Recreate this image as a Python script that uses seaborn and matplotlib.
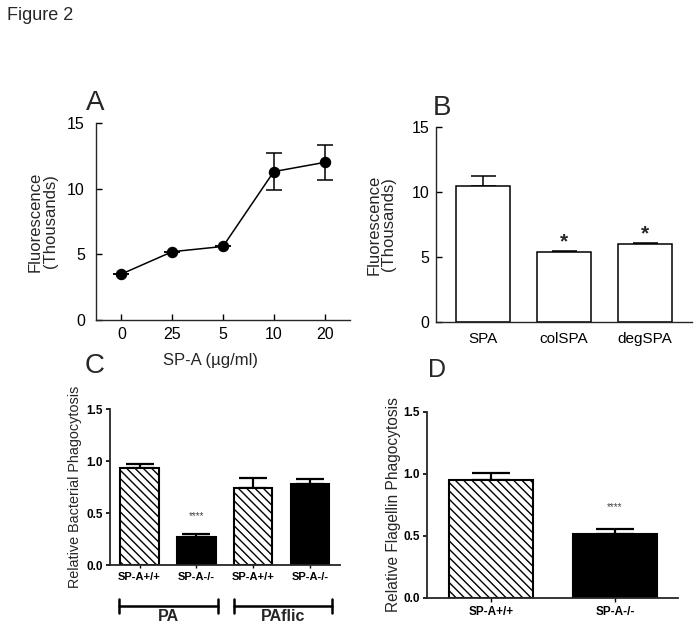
import matplotlib
matplotlib.use("Agg")
import matplotlib.pyplot as plt
import seaborn as sns
import pandas as pd
import numpy as np

# ---------------- data ----------------
conc_labels = ["0", "25", "5", "10", "20"]
conc_fluor = [3.5, 5.2, 5.6, 11.3, 12.0]
conc_err = [0.0, 0.0, 0.0, 1.4, 1.35]

spa_labels = ["SPA", "colSPA", "degSPA"]
spa_fluor = [10.5, 5.4, 6.0]
spa_err = [0.7, 0.05, 0.05]
spa_sig = ["", "*", "*"]

bact_labels = ["SP-A+/+", "SP-A-/-", "SP-A+/+", "SP-A-/-"]
bact_groups = ["PA", "PA", "PAflic", "PAflic"]
bact_vals = [0.93, 0.27, 0.74, 0.78]
bact_err = [0.04, 0.03, 0.10, 0.05]
bact_sig = ["", "****", "", ""]

flag_labels = ["SP-A+/+", "SP-A-/-"]
flag_vals = [0.95, 0.52]
flag_err = [0.06, 0.04]
flag_sig = ["", "****"]

# ---------------- style ----------------
sns.set_theme(style="ticks")
plt.rcParams["font.family"] = ["Liberation Sans", "DejaVu Sans"]
plt.rcParams["hatch.linewidth"] = 1.0
plt.rcParams["axes.linewidth"] = 1.0

W, H = 700, 631
fig = plt.figure(figsize=(W / 100, H / 100), dpi=100)


def rect(l, t, r, b):
    return [l / W, 1 - b / H, (r - l) / W, (b - t) / H]


fig.text(7 / W, 1 - 7 / H, "Figure 2", fontsize=13, ha="left", va="top")

# ---------------- Panel A ----------------
axA = fig.add_axes(rect(96, 123, 350, 320))
dfA = pd.DataFrame({"conc": conc_labels, "fluor": conc_fluor})
axA.errorbar(np.arange(len(conc_labels)), conc_fluor, yerr=conc_err, fmt="none",
             ecolor="black", elinewidth=1.1, capsize=5.5, capthick=1.1, zorder=1)
sns.pointplot(data=dfA, x="conc", y="fluor", order=conc_labels, color="black",
              errorbar=None, markers="o", markersize=7.4, linewidth=1.1, ax=axA)
axA.set_ylim(0, 15)
axA.set_yticks([0, 5, 10, 15])
axA.set_xlim(-0.5, 4.5)
sns.despine(ax=axA)
axA.tick_params(axis="both", direction="in", length=4, width=1.0, labelsize=11.5, colors="black")
axA.tick_params(axis="y", pad=8)
axA.tick_params(axis="x", pad=5)
axA.set_xlabel("SP-A (µg/ml)", fontsize=12)
axA.xaxis.set_label_coords(0.45, -0.165)
axA.set_ylabel("Fluorescence\n(Thousands)", fontsize=12, linespacing=1.0)
axA.yaxis.set_label_coords(-0.15, 0.5)
fig.text(86 / W, 1 - 110 / H, "A", fontsize=20, ha="left", va="baseline")

# ---------------- Panel B ----------------
axB = fig.add_axes(rect(436, 127, 692, 322))
dfB = pd.DataFrame({"sample": spa_labels, "fluor": spa_fluor})
axB.errorbar(np.arange(len(spa_labels)), spa_fluor, yerr=[[0] * 3, spa_err], fmt="none",
             ecolor="black", elinewidth=1.1, capsize=9, capthick=1.1, zorder=1)
sns.barplot(data=dfB, x="sample", y="fluor", order=spa_labels, color="white",
            edgecolor="black", linewidth=1.1, width=0.667, errorbar=None, ax=axB, zorder=2)
for p in axB.patches:
    p.set_facecolor("white")
for i, s in enumerate(spa_sig):
    if s:
        axB.text(i, spa_fluor[i] + spa_err[i] + 0.75, s, ha="center", va="center",
                 fontsize=15, fontweight="bold")
axB.set_ylim(0, 15)
axB.set_yticks([0, 5, 10, 15])
axB.set_xlim(-0.58, 2.58)
sns.despine(ax=axB)
axB.tick_params(axis="y", direction="in", length=4, width=1.0, labelsize=11.5, pad=5, colors="black")
axB.tick_params(axis="x", length=0, labelsize=11, pad=7, colors="black")
axB.set_xlabel("")
axB.set_ylabel("Fluorescence\n(Thousands)", fontsize=12, linespacing=1.0)
axB.yaxis.set_label_coords(-0.155, 0.5)
fig.text(433 / W, 1 - 115 / H, "B", fontsize=20, ha="left", va="baseline")

# ---------------- Panel C ----------------
axC = fig.add_axes(rect(110, 409, 340, 565))
bact_keys = [f"{g} {l}" for g, l in zip(bact_groups, bact_labels)]
dfC = pd.DataFrame({"key": bact_keys, "val": bact_vals})
axC.errorbar(np.arange(len(bact_keys)), bact_vals, yerr=[[0] * 4, bact_err], fmt="none",
             ecolor="black", elinewidth=1.6, capsize=10, capthick=1.6, zorder=1)
sns.barplot(data=dfC, x="key", y="val", order=bact_keys, color="white",
            edgecolor="black", linewidth=1.5, width=0.68, errorbar=None, ax=axC, zorder=2)
for lab, p in zip(bact_labels, axC.patches):
    if "+/+" in lab:
        p.set_facecolor("white")
        p.set_hatch("\\\\\\\\")
    else:
        p.set_facecolor("black")
for i, s in enumerate(bact_sig):
    if s:
        axC.text(i, 0.47, s, ha="center", va="center", fontsize=7, color="#444444")
axC.set_ylim(0, 1.5)
axC.set_yticks([0, 0.5, 1.0, 1.5])
axC.set_yticklabels(["0.0", "0.5", "1.0", "1.5"])
axC.set_xlim(-0.52, 3.53)
axC.set_xticks(range(4))
axC.set_xticklabels(bact_labels)
sns.despine(ax=axC)
for sp in ["left", "bottom"]:
    axC.spines[sp].set_linewidth(1.3)
axC.tick_params(axis="y", direction="out", length=3, width=1.2, labelsize=8.5, pad=2, colors="black")
axC.tick_params(axis="x", direction="out", length=2, width=1.0, labelsize=8, pad=3, colors="black")
for t in axC.get_xticklabels() + axC.get_yticklabels():
    t.set_fontweight("bold")
axC.set_xlabel("")
axC.set_ylabel("Relative Bacterial Phagocytosis", fontsize=10.4)
axC.yaxis.set_label_coords(-0.12, 0.5)
# group brackets
trans = axC.get_xaxis_transform()
groups = ["PA", "PAflic"]
spans = [(-0.36, 1.38), (1.66, 3.39)]
for g, (x0, x1) in zip(groups, spans):
    axC.plot([x0, x1], [-0.263, -0.263], color="black", lw=1.8, transform=trans, clip_on=False)
    for xx in (x0, x1):
        axC.plot([xx, xx], [-0.305, -0.221], color="black", lw=1.8, transform=trans, clip_on=False)
    axC.text((x0 + x1) / 2, -0.333, g, ha="center", va="center", fontsize=11.5,
             fontweight="bold", transform=trans)
fig.text(85 / W, 1 - 373 / H, "C", fontsize=20, ha="left", va="baseline")

# ---------------- Panel D ----------------
axD = fig.add_axes(rect(427, 412, 678, 598))
dfD = pd.DataFrame({"geno": flag_labels, "val": flag_vals})
axD.errorbar(np.arange(len(flag_labels)), flag_vals, yerr=[[0] * 2, flag_err], fmt="none",
             ecolor="black", elinewidth=1.6, capsize=14, capthick=1.6, zorder=1)
sns.barplot(data=dfD, x="geno", y="val", order=flag_labels, color="white",
            edgecolor="black", linewidth=1.5, width=0.68, errorbar=None, ax=axD, zorder=2)
for lab, p in zip(flag_labels, axD.patches):
    if "+/+" in lab:
        p.set_facecolor("white")
        p.set_hatch("\\\\\\\\")
    else:
        p.set_facecolor("black")
for i, s in enumerate(flag_sig):
    if s:
        axD.text(i, 0.73, s, ha="center", va="center", fontsize=7, color="#444444")
axD.set_ylim(0, 1.5)
axD.set_yticks([0, 0.5, 1.0, 1.5])
axD.set_yticklabels(["0.0", "0.5", "1.0", "1.5"])
axD.set_xlim(-0.516, 1.51)
sns.despine(ax=axD)
for sp in ["left", "bottom"]:
    axD.spines[sp].set_linewidth(1.3)
axD.tick_params(axis="y", direction="out", length=3, width=1.2, labelsize=8.5, pad=2, colors="black")
axD.tick_params(axis="x", direction="out", length=3, width=1.0, labelsize=8.5, pad=3, colors="black")
for t in axD.get_xticklabels() + axD.get_yticklabels():
    t.set_fontweight("bold")
axD.set_xlabel("")
axD.set_ylabel("Relative Flagellin Phagocytosis", fontsize=11.2)
axD.yaxis.set_label_coords(-0.105, 0.5)
fig.text(428 / W, 1 - 377 / H, "D", fontsize=18, ha="left", va="baseline")

fig.savefig("out.png", dpi=100)
